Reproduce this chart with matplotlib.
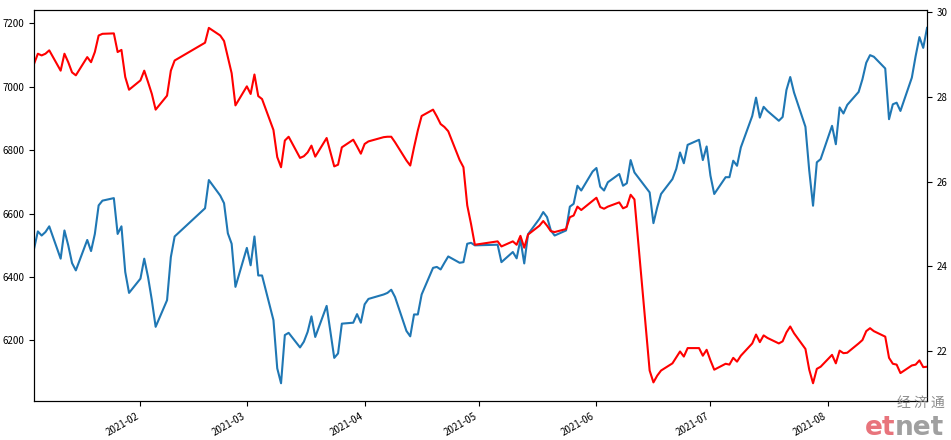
import numpy as np
import pandas as pd
import matplotlib
matplotlib.use("Agg")
import matplotlib.pyplot as plt

plt.rcParams['font.family'] = ['Noto Sans CJK SC', 'DejaVu Sans']
plt.rcParams['axes.unicode_minus'] = False

# trading days (A-share calendar, Jan 4 - Aug 27 2021)
holidays = ['2021-02-11', '2021-02-12', '2021-02-15', '2021-02-16', '2021-02-17',
            '2021-04-05', '2021-05-03', '2021-05-04', '2021-05-05', '2021-06-14']
dates = pd.bdate_range('2021-01-04', '2021-08-27')
dates = dates[~dates.isin(pd.to_datetime(holidays))]

# left axis series (blue)
blue_jan = [6489, 6544, 6531, 6542, 6560, 6458, 6547, 6500, 6444, 6421,
            6517, 6482, 6536, 6626, 6641, 6649, 6536, 6560, 6416, 6350]
blue_feb = [6395, 6458, 6400, 6327, 6243, 6327, 6463, 6528, 6617, 6706,
            6657, 6633, 6538, 6505, 6369]
blue_mar = [6492, 6437, 6528, 6405, 6405, 6264, 6112, 6065, 6217, 6224,
            6178, 6196, 6227, 6276, 6211, 6309, 6227, 6145, 6159, 6253,
            6256, 6283, 6256]
blue_apr = [6314, 6331, 6345, 6350, 6360, 6337, 6230, 6213, 6282, 6282,
            6345, 6429, 6432, 6424, 6445, 6465, 6445, 6447, 6505, 6508, 6500]
blue_may = [6502, 6447, 6479, 6459, 6518, 6443, 6535, 6584, 6605, 6589,
            6547, 6531, 6547, 6622, 6631, 6688, 6673, 6733]
blue_jun = [6744, 6685, 6673, 6699, 6725, 6688, 6696, 6769, 6730, 6667,
            6570, 6620, 6662, 6709, 6741, 6793, 6759, 6817, 6833, 6769, 6812]
blue_jul = [6720, 6662, 6715, 6715, 6767, 6751, 6809, 6908, 6966, 6903,
            6937, 6924, 6893, 6905, 6990, 7031, 6982, 6874, 6736, 6625,
            6762, 6772]
blue_aug = [6877, 6819, 6935, 6916, 6943, 6984, 7024, 7076, 7100, 7095,
            7058, 6898, 6945, 6950, 6924, 7029, 7097, 7157, 7123, 7186]

# right axis series (red)
red_jan = [28.78, 29.02, 28.98, 29.02, 29.10, 28.62, 29.02, 28.82, 28.58, 28.51,
           28.94, 28.82, 29.06, 29.45, 29.49, 29.50, 29.06, 29.11, 28.47, 28.17]
red_feb = [28.39, 28.62, 28.35, 28.07, 27.70, 28.03, 28.62, 28.86, 29.28, 29.63,
           29.45, 29.32, 28.94, 28.56, 27.80]
red_mar = [28.25, 28.07, 28.53, 28.02, 27.95, 27.22, 26.58, 26.34, 26.97, 27.06,
           26.56, 26.60, 26.69, 26.85, 26.59, 27.03, 26.69, 26.36, 26.40, 26.81,
           26.99, 26.83, 26.66]
red_apr = [26.89, 26.95, 27.05, 27.06, 27.06, 26.93, 26.50, 26.38, 26.81, 27.21,
           27.55, 27.70, 27.54, 27.36, 27.29, 27.19, 26.51, 26.34, 25.44, 25.00, 24.51]
red_may = [24.59, 24.47, 24.59, 24.51, 24.72, 24.44, 24.75, 24.96, 25.07, 24.96,
           24.83, 24.81, 24.88, 25.16, 25.20, 25.41, 25.33, 25.55]
red_jun = [25.62, 25.40, 25.36, 25.41, 25.51, 25.37, 25.41, 25.69, 25.58, 21.54,
           21.26, 21.42, 21.54, 21.71, 21.85, 21.99, 21.87, 22.07, 22.07, 21.89, 22.03]
red_jul = [21.78, 21.56, 21.70, 21.68, 21.84, 21.75, 21.89, 22.18, 22.39, 22.21,
           22.37, 22.31, 22.18, 22.23, 22.44, 22.58, 22.42, 22.05, 21.56, 21.24,
           21.58, 21.63]
red_aug = [21.91, 21.71, 22.01, 21.95, 21.96, 22.18, 22.26, 22.47, 22.54, 22.47,
           22.34, 21.84, 21.70, 21.68, 21.48, 21.66, 21.68, 21.78, 21.62, 21.63]

blue = blue_jan + blue_feb + blue_mar + blue_apr + blue_may + blue_jun + blue_jul + blue_aug
red = red_jan + red_feb + red_mar + red_apr + red_may + red_jun + red_jul + red_aug

fig, ax = plt.subplots(figsize=(9.51, 4.40), dpi=100)
ax.plot(dates, blue, color='#1f77b4', lw=1.5)
ax2 = ax.twinx()
ax2.plot(dates, red, color='red', lw=1.5)
ax.set_xlim(dates[0], dates[-1])

fig.autofmt_xdate()
for a in (ax, ax2):
    a.tick_params(labelsize=7)
for lbl in ax.get_xticklabels():
    lbl.set_fontsize(7)

fig.subplots_adjust(left=0.0358, right=0.9748, top=0.977, bottom=0.0886)

# etnet watermark
fig.text(0.994, 0.068, '经 济 通', color='#8c8c8c', fontsize=10, ha='right', va='bottom')
t1 = fig.text(865 / 951, 5 / 440, 'et', color='#e8747c', fontsize=19, fontweight='bold',
              ha='left', va='baseline', family='DejaVu Sans')
fig.canvas.draw()
bb = t1.get_window_extent(fig.canvas.get_renderer())
fig.text((bb.x1 - 1) / 951, 5 / 440, 'net', color='#a0a0a0', fontsize=19, fontweight='bold',
         ha='left', va='baseline', family='DejaVu Sans')

fig.savefig('out.png', dpi=100)
